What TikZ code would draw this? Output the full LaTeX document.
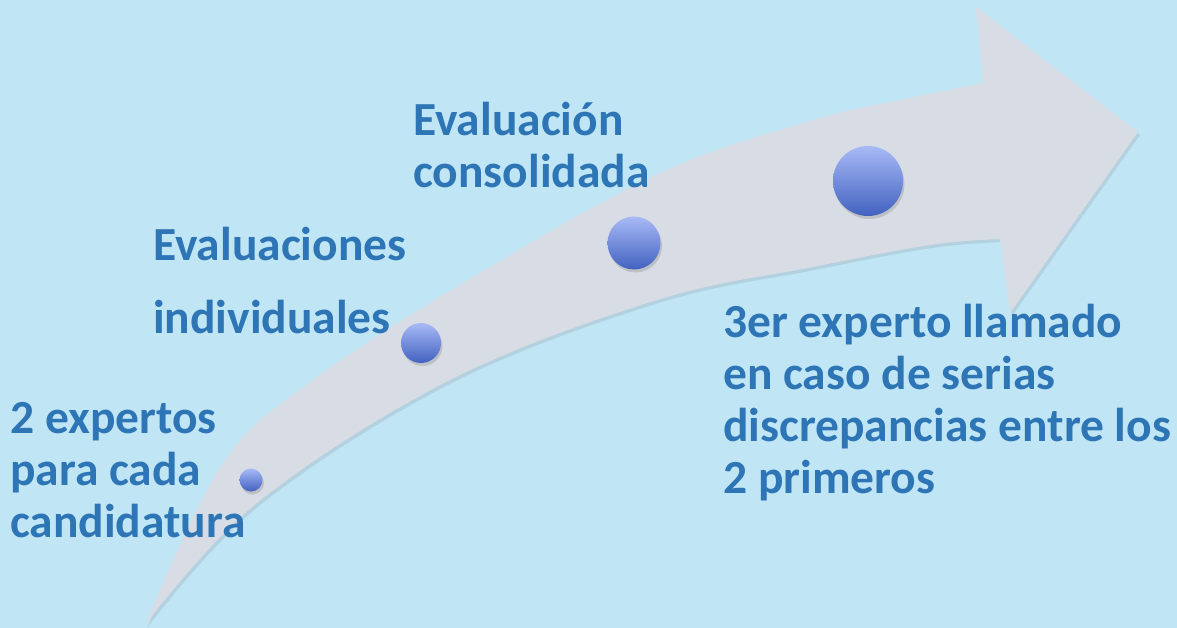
\documentclass[tikz,border=0pt]{standalone}
\usepackage{fontspec}
\setmainfont{Carlito}
\usepackage{tikz}
\usetikzlibrary{shadows}
\definecolor{bgblue}{HTML}{C0E6F6}
\definecolor{arrowgray}{HTML}{D8DCE4}
\definecolor{txtblue}{HTML}{2E75B6}
\definecolor{balltop}{HTML}{A8BAF6}
\definecolor{ballbot}{HTML}{4262C0}

\begin{document}
\begin{tikzpicture}[x=1pt, y=-1pt,
  ball/.style={circle, inner sep=0pt, draw=none, top color=balltop, bottom color=ballbot,
    drop shadow={shadow xshift=1.5pt, shadow yshift=-3pt, opacity=0.3}},
  txt/.style={font=\bfseries\fontsize{47.5}{52}\selectfont, text=txtblue, align=left,
    anchor=base west, inner sep=0pt}]
  \fill[bgblue] (0,0) rectangle (1177,628);
  \useasboundingbox (0,0) rectangle (1177,628);
  % curved arrow
  \fill[arrowgray, drop shadow={shadow xshift=2pt, shadow yshift=-3pt, opacity=0.2}]
    plot[smooth, tension=0.6] coordinates {(145,625) (223,463) (313,380) (473,277) (660,173) (813,120) (900,100) (983,83)}
    -- (976,7) -- (1138,132) -- (1010,313) -- (1000,239)
    -- plot[smooth, tension=0.6] coordinates {(1000,239) (930,245) (813,267) (657,300) (450,380) (257,503) (145,625)}
    -- cycle;
  % steps
  \node[ball, minimum size=23pt] (s1) at (251,480) {};
  \node[ball, minimum size=40pt] (s2) at (421,343) {};
  \node[ball, minimum size=53pt] (s3) at (634,243) {};
  \node[ball, minimum size=70pt] (s4) at (868,181) {};
  % labels (anchored at the last baseline)
  \node[txt] (t1) at (10,537) {2 expertos\\para cada\\candidatura};
  \node[txt] (t2) at (153,333) {Evaluaciones\\[21pt]individuales};
  \node[txt] (t3) at (413,188) {Evaluación\\consolidada};
  \node[txt] (t4) at (723,493) {3er experto llamado\\en caso de serias\\discrepancias entre los\\2 primeros};
\end{tikzpicture}
\end{document}
